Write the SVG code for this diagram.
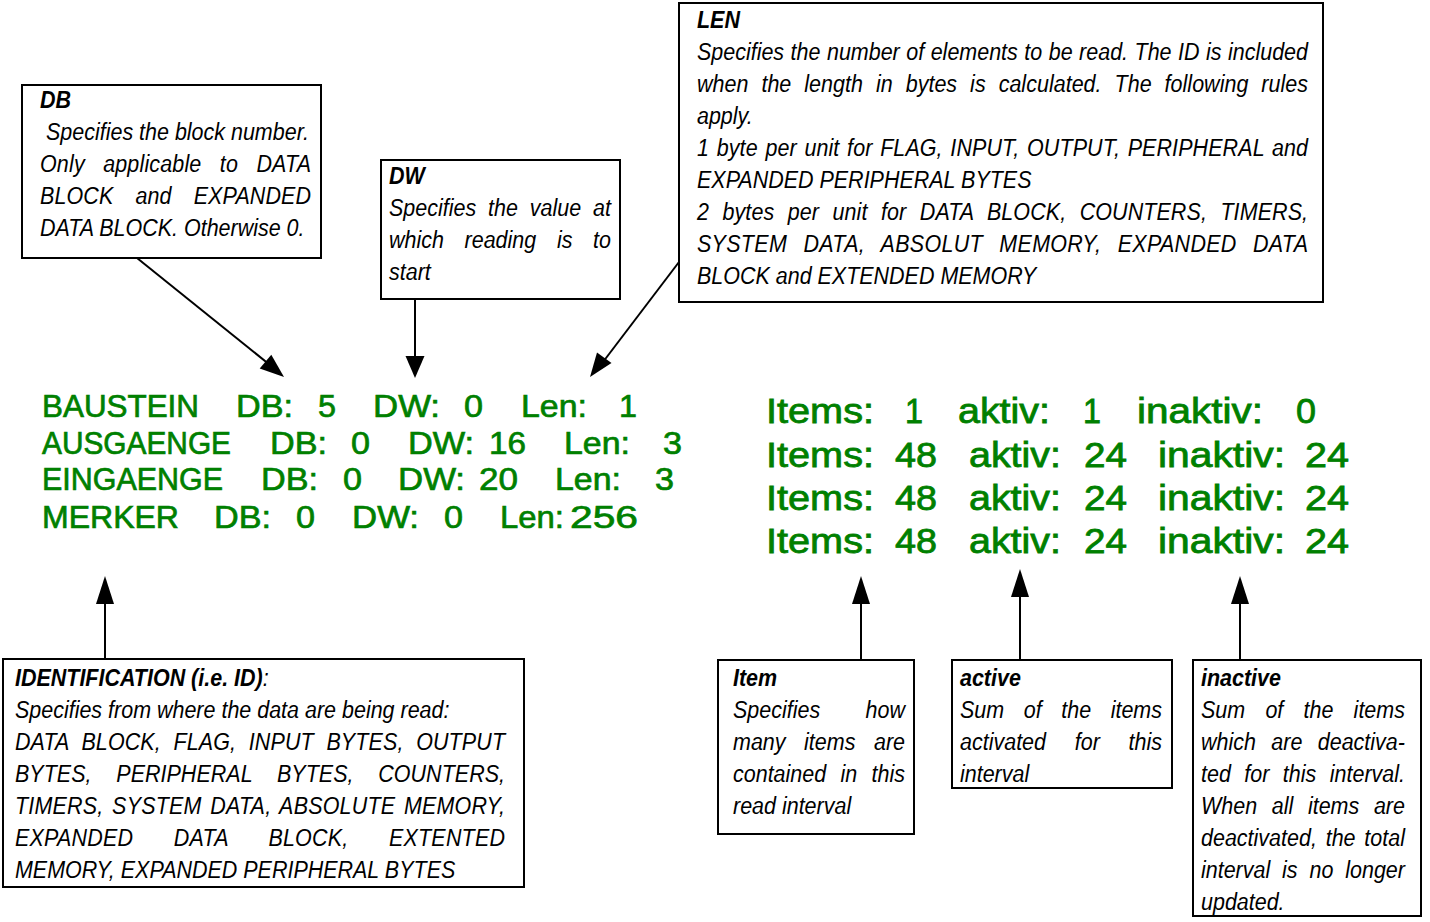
<svg xmlns="http://www.w3.org/2000/svg" width="1430" height="922" viewBox="0 0 1430 922">
  <style>
    .box { fill: #ffffff; stroke: #000000; stroke-width: 2; }
    .t { font-family: "Liberation Sans", Arial, sans-serif; font-style: italic; font-size: 24px; fill: #000000; }
    .h { font-weight: bold; }
    .g { font-family: "Liberation Sans", Arial, sans-serif; font-size: 32px; fill: #008000; stroke: #008000; stroke-width: 0.7; }
    .gr { font-family: "Liberation Sans", Arial, sans-serif; font-size: 35px; fill: #008000; stroke: #008000; stroke-width: 0.8; }
    .line { stroke: #000000; stroke-width: 2; fill: none; }
    .head { fill: #000000; stroke: none; }
  </style>
  <rect width="1430" height="922" fill="#ffffff"/>

  <!-- connectors -->
  <g id="connectors">
    <line class="line" x1="137" y1="258" x2="270" y2="365"/>
    <polygon class="head" points="284,377 259.7,368.5 271.3,354.7"/>
    <line class="line" x1="415" y1="300" x2="415" y2="358"/>
    <polygon class="head" points="415,378 405.5,356 424.5,356"/>
    <line class="line" x1="679" y1="262" x2="603" y2="362"/>
    <polygon class="head" points="590,377 611.5,363 597,352.5"/>
    <line class="line" x1="105" y1="659" x2="105" y2="602"/>
    <polygon class="head" points="105,576 96,604 114,604"/>
    <line class="line" x1="861" y1="660" x2="861" y2="602"/>
    <polygon class="head" points="861,576 852,604 870,604"/>
    <line class="line" x1="1020" y1="660" x2="1020" y2="595"/>
    <polygon class="head" points="1020,569 1011,597 1029,597"/>
    <line class="line" x1="1240" y1="660" x2="1240" y2="602"/>
    <polygon class="head" points="1240,576 1231,604 1249,604"/>
  </g>

  <!-- read list: area, DB, DW, length -->
  <g id="read-list">
    <text class="g" x="42" y="417" textLength="157" lengthAdjust="spacingAndGlyphs">BAUSTEIN</text>
    <text class="g" x="236" y="417" textLength="57" lengthAdjust="spacingAndGlyphs">DB:</text>
    <text class="g" x="318" y="417" textLength="18" lengthAdjust="spacingAndGlyphs">5</text>
    <text class="g" x="373" y="417" textLength="67" lengthAdjust="spacingAndGlyphs">DW:</text>
    <text class="g" x="464" y="417" textLength="19" lengthAdjust="spacingAndGlyphs">0</text>
    <text class="g" x="521" y="417" textLength="66" lengthAdjust="spacingAndGlyphs">Len:</text>
    <text class="g" x="619" y="417" textLength="18" lengthAdjust="spacingAndGlyphs">1</text>

    <text class="g" x="42" y="454" textLength="189" lengthAdjust="spacingAndGlyphs">AUSGAENGE</text>
    <text class="g" x="270" y="454" textLength="57" lengthAdjust="spacingAndGlyphs">DB:</text>
    <text class="g" x="351" y="454" textLength="19" lengthAdjust="spacingAndGlyphs">0</text>
    <text class="g" x="408" y="454" textLength="66" lengthAdjust="spacingAndGlyphs">DW:</text>
    <text class="g" x="489" y="454" textLength="37" lengthAdjust="spacingAndGlyphs">16</text>
    <text class="g" x="564" y="454" textLength="66" lengthAdjust="spacingAndGlyphs">Len:</text>
    <text class="g" x="663" y="454" textLength="19" lengthAdjust="spacingAndGlyphs">3</text>

    <text class="g" x="42" y="490" textLength="181" lengthAdjust="spacingAndGlyphs">EINGAENGE</text>
    <text class="g" x="261" y="490" textLength="57" lengthAdjust="spacingAndGlyphs">DB:</text>
    <text class="g" x="343" y="490" textLength="19" lengthAdjust="spacingAndGlyphs">0</text>
    <text class="g" x="398" y="490" textLength="67" lengthAdjust="spacingAndGlyphs">DW:</text>
    <text class="g" x="479" y="490" textLength="39" lengthAdjust="spacingAndGlyphs">20</text>
    <text class="g" x="555" y="490" textLength="66" lengthAdjust="spacingAndGlyphs">Len:</text>
    <text class="g" x="655" y="490" textLength="19" lengthAdjust="spacingAndGlyphs">3</text>

    <text class="g" x="42" y="528" textLength="137" lengthAdjust="spacingAndGlyphs">MERKER</text>
    <text class="g" x="214" y="528" textLength="57" lengthAdjust="spacingAndGlyphs">DB:</text>
    <text class="g" x="296" y="528" textLength="19" lengthAdjust="spacingAndGlyphs">0</text>
    <text class="g" x="352" y="528" textLength="67" lengthAdjust="spacingAndGlyphs">DW:</text>
    <text class="g" x="444" y="528" textLength="19" lengthAdjust="spacingAndGlyphs">0</text>
    <text class="g" x="500" y="528" textLength="64" lengthAdjust="spacingAndGlyphs">Len:</text>
    <text class="g" x="570" y="528" textLength="68" lengthAdjust="spacingAndGlyphs">256</text>
  </g>

  <!-- interval statistics: items, active, inactive -->
  <g id="interval-list">
    <text class="gr" x="766" y="423" textLength="108" lengthAdjust="spacingAndGlyphs">Items:</text>
    <text class="gr" x="905" y="423" textLength="18" lengthAdjust="spacingAndGlyphs">1</text>
    <text class="gr" x="958" y="423" textLength="92" lengthAdjust="spacingAndGlyphs">aktiv:</text>
    <text class="gr" x="1083" y="423" textLength="18" lengthAdjust="spacingAndGlyphs">1</text>
    <text class="gr" x="1137" y="423" textLength="126" lengthAdjust="spacingAndGlyphs">inaktiv:</text>
    <text class="gr" x="1296" y="423" textLength="20" lengthAdjust="spacingAndGlyphs">0</text>

    <text class="gr" x="766" y="467" textLength="108" lengthAdjust="spacingAndGlyphs">Items:</text>
    <text class="gr" x="895" y="467" textLength="42" lengthAdjust="spacingAndGlyphs">48</text>
    <text class="gr" x="969" y="467" textLength="92" lengthAdjust="spacingAndGlyphs">aktiv:</text>
    <text class="gr" x="1084" y="467" textLength="43" lengthAdjust="spacingAndGlyphs">24</text>
    <text class="gr" x="1158" y="467" textLength="127" lengthAdjust="spacingAndGlyphs">inaktiv:</text>
    <text class="gr" x="1305" y="467" textLength="44" lengthAdjust="spacingAndGlyphs">24</text>

    <text class="gr" x="766" y="510" textLength="108" lengthAdjust="spacingAndGlyphs">Items:</text>
    <text class="gr" x="895" y="510" textLength="42" lengthAdjust="spacingAndGlyphs">48</text>
    <text class="gr" x="969" y="510" textLength="92" lengthAdjust="spacingAndGlyphs">aktiv:</text>
    <text class="gr" x="1084" y="510" textLength="43" lengthAdjust="spacingAndGlyphs">24</text>
    <text class="gr" x="1158" y="510" textLength="127" lengthAdjust="spacingAndGlyphs">inaktiv:</text>
    <text class="gr" x="1305" y="510" textLength="44" lengthAdjust="spacingAndGlyphs">24</text>

    <text class="gr" x="766" y="553" textLength="108" lengthAdjust="spacingAndGlyphs">Items:</text>
    <text class="gr" x="895" y="553" textLength="42" lengthAdjust="spacingAndGlyphs">48</text>
    <text class="gr" x="969" y="553" textLength="92" lengthAdjust="spacingAndGlyphs">aktiv:</text>
    <text class="gr" x="1084" y="553" textLength="43" lengthAdjust="spacingAndGlyphs">24</text>
    <text class="gr" x="1158" y="553" textLength="127" lengthAdjust="spacingAndGlyphs">inaktiv:</text>
    <text class="gr" x="1305" y="553" textLength="44" lengthAdjust="spacingAndGlyphs">24</text>
  </g>

  <!-- DB note (text set in a condensed face: x scaled about the left margin) -->
  <g id="note-db">
    <rect class="box" x="22" y="85" width="299" height="173"/>
    <g transform="matrix(0.895 0 0 1 4.2 0)">
      <text class="t h" x="40" y="108">DB</text>
      <text class="t" x="46.7" y="140">Specifies the block number.</text>
      <text class="t" x="40" y="172" style="word-spacing:13.7px" textLength="302.8" lengthAdjust="spacing">Only applicable to DATA</text>
      <text class="t" x="40" y="204" style="word-spacing:17.9px" textLength="302.8" lengthAdjust="spacing">BLOCK and EXPANDED</text>
      <text class="t" x="40" y="236">DATA BLOCK. Otherwise 0.</text>
    </g>
  </g>

  <!-- DW note -->
  <g id="note-dw">
    <rect class="box" x="381" y="160" width="239" height="139"/>
    <g transform="matrix(0.895 0 0 1 40.845 0)">
      <text class="t h" x="389" y="184">DW</text>
      <text class="t" x="389" y="216" style="word-spacing:6.6px" textLength="248" lengthAdjust="spacing">Specifies the value at</text>
      <text class="t" x="389" y="248" style="word-spacing:16.4px" textLength="248" lengthAdjust="spacing">which reading is to</text>
      <text class="t" x="389" y="280">start</text>
    </g>
  </g>

  <!-- LEN note -->
  <g id="note-len">
    <rect class="box" x="679" y="3" width="644" height="299"/>
    <g transform="matrix(0.895 0 0 1 73.185 0)">
      <text class="t h" x="697" y="28">LEN</text>
      <text class="t" x="697" y="60" style="word-spacing:0.6px" textLength="682.7" lengthAdjust="spacing">Specifies the number of elements to be read. The ID is included</text>
      <text class="t" x="697" y="92" style="word-spacing:7.8px" textLength="682.7" lengthAdjust="spacing">when the length in bytes is calculated. The following rules</text>
      <text class="t" x="697" y="124">apply.</text>
      <text class="t" x="697" y="156" style="word-spacing:1.8px" textLength="682.7" lengthAdjust="spacing">1 byte per unit for FLAG, INPUT, OUTPUT, PERIPHERAL and</text>
      <text class="t" x="697" y="188">EXPANDED PERIPHERAL BYTES</text>
      <text class="t" x="697" y="220" style="word-spacing:8.3px" textLength="682.7" lengthAdjust="spacing">2 bytes per unit for DATA BLOCK, COUNTERS, TIMERS,</text>
      <text class="t" x="697" y="252" style="word-spacing:11.3px" textLength="682.7" lengthAdjust="spacing">SYSTEM DATA, ABSOLUT MEMORY, EXPANDED DATA</text>
      <text class="t" x="697" y="284">BLOCK and EXTENDED MEMORY</text>
    </g>
  </g>

  <!-- IDENTIFICATION note -->
  <g id="note-id">
    <rect class="box" x="3" y="659" width="521" height="228"/>
    <g transform="matrix(0.895 0 0 1 1.575 0)">
      <text class="t" x="15" y="686"><tspan class="h">IDENTIFICATION (i.e. ID)</tspan>:</text>
      <text class="t" x="15" y="718">Specifies from where the data are being read:</text>
      <text class="t" x="15" y="750" style="word-spacing:7.3px" textLength="547.5" lengthAdjust="spacing">DATA BLOCK, FLAG, INPUT BYTES, OUTPUT</text>
      <text class="t" x="15" y="782" style="word-spacing:21px" textLength="547.5" lengthAdjust="spacing">BYTES, PERIPHERAL BYTES, COUNTERS,</text>
      <text class="t" x="15" y="814" style="word-spacing:2.7px" textLength="547.5" lengthAdjust="spacing">TIMERS, SYSTEM DATA, ABSOLUTE MEMORY,</text>
      <text class="t" x="15" y="846" style="word-spacing:38.3px" textLength="547.5" lengthAdjust="spacing">EXPANDED DATA BLOCK, EXTENTED</text>
      <text class="t" x="15" y="878">MEMORY, EXPANDED PERIPHERAL BYTES</text>
    </g>
  </g>

  <!-- Item note -->
  <g id="note-item">
    <rect class="box" x="718" y="660" width="196" height="174"/>
    <g transform="matrix(0.895 0 0 1 76.965 0)">
      <text class="t h" x="733" y="686">Item</text>
      <text class="t" x="733" y="718" style="word-spacing:43.9px" textLength="192.2" lengthAdjust="spacing">Specifies how</text>
      <text class="t" x="733" y="750" style="word-spacing:14px" textLength="192.2" lengthAdjust="spacing">many items are</text>
      <text class="t" x="733" y="782" style="word-spacing:9.3px" textLength="192.2" lengthAdjust="spacing">contained in this</text>
      <text class="t" x="733" y="814">read interval</text>
    </g>
  </g>

  <!-- active note -->
  <g id="note-active">
    <rect class="box" x="952" y="660" width="220" height="128"/>
    <g transform="matrix(0.895 0 0 1 100.8 0)">
      <text class="t h" x="960" y="686">active</text>
      <text class="t" x="960" y="718" style="word-spacing:15.2px" textLength="225.7" lengthAdjust="spacing">Sum of the items</text>
      <text class="t" x="960" y="750" style="word-spacing:25.4px" textLength="225.7" lengthAdjust="spacing">activated for this</text>
      <text class="t" x="960" y="782">interval</text>
    </g>
  </g>

  <!-- inactive note -->
  <g id="note-inactive">
    <rect class="box" x="1193" y="660" width="228" height="256"/>
    <g transform="matrix(0.895 0 0 1 126.105 0)">
      <text class="t h" x="1201" y="686">inactive</text>
      <text class="t" x="1201" y="718" style="word-spacing:15.9px" textLength="227.9" lengthAdjust="spacing">Sum of the items</text>
      <text class="t" x="1201" y="750" style="word-spacing:10.5px" textLength="227.9" lengthAdjust="spacing">which are deactiva-</text>
      <text class="t" x="1201" y="782" style="word-spacing:8.4px" textLength="227.9" lengthAdjust="spacing">ted for this interval.</text>
      <text class="t" x="1201" y="814" style="word-spacing:9.7px" textLength="227.9" lengthAdjust="spacing">When all items are</text>
      <text class="t" x="1201" y="846" style="word-spacing:3.1px" textLength="227.9" lengthAdjust="spacing">deactivated, the total</text>
      <text class="t" x="1201" y="878" style="word-spacing:6.6px" textLength="227.9" lengthAdjust="spacing">interval is no longer</text>
      <text class="t" x="1201" y="910">updated.</text>
    </g>
  </g>
</svg>
